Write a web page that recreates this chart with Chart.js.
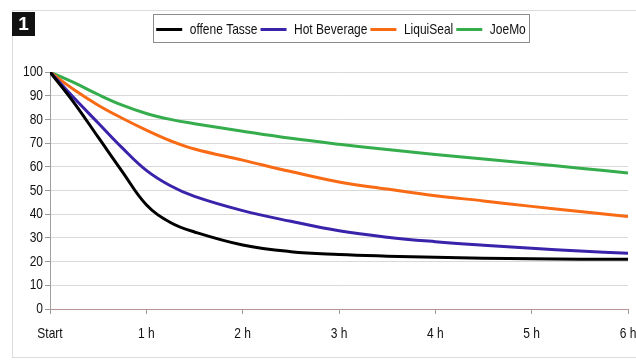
<!DOCTYPE html>
<html>
<head>
<meta charset="utf-8">
<script src="https://cdn.jsdelivr.net/npm/chart.js@4"></script>
<style>
  html, body { margin: 0; padding: 0; background: #fff; }
  #wrap { width: 636px; height: 362px; }
</style>
</head>
<body>
<div id="wrap"><canvas id="myChart" width="636" height="362"></canvas></div>
<script>
// hours after start, tick labels
const hours = [0, 0.25, 0.5, 0.75, 1, 1.25, 1.5, 2, 2.5, 3, 3.5, 4, 4.5, 5, 5.5, 6];
const xLabels = ['Start', '1 h', '2 h', '3 h', '4 h', '5 h', '6 h'];

const offeneTasse = [100, 87, 72.5, 58, 44, 36.5, 32.5, 27, 24.2, 23, 22.3, 21.8, 21.4, 21.2, 21, 21];
const hotBeverage = [100, 89, 78.5, 68, 58.5, 52, 47.5, 41.5, 37, 33, 30.3, 28.4, 26.9, 25.6, 24.5, 23.5];
const liquiSeal = [100, 92.5, 86, 80.5, 75.5, 71, 67.5, 62.8, 58, 53.6, 50.6, 47.8, 45.6, 43.3, 41.1, 39];
const joeMo = [100, 95.5, 90.5, 86, 82.5, 80, 78.2, 75, 72, 69.5, 67.3, 65.2, 63.3, 61.4, 59.4, 57.4];

const FONT = "'Liberation Sans', Arial, sans-serif";
const NARROW = 0.8; // the original uses a narrow face

const canvas = document.getElementById('myChart');
const ctx = canvas.getContext('2d');

// emulate a narrow font: squeeze text horizontally around its anchor
const rawFill = ctx.fillText.bind(ctx);
const rawMeasure = ctx.measureText.bind(ctx);
ctx.fillText = function (text, x, y, maxWidth) {
    ctx.save();
    ctx.translate(x, y);
    ctx.scale(NARROW, 1);
    rawFill(text, 0, 0);
    ctx.restore();
};
ctx.measureText = function (text) {
    const m = rawMeasure(text);
    return {
        width: m.width * NARROW,
        actualBoundingBoxAscent: m.actualBoundingBoxAscent,
        actualBoundingBoxDescent: m.actualBoundingBoxDescent,
        actualBoundingBoxLeft: m.actualBoundingBoxLeft * NARROW,
        actualBoundingBoxRight: m.actualBoundingBoxRight * NARROW
    };
};

function toPoints(values) {
    return values.map((v, i) => ({ x: hours[i], y: v }));
}

function line(label, values, color) {
    return {
        label: label,
        data: toPoints(values),
        borderColor: color,
        backgroundColor: color,
        borderWidth: 3,
        pointRadius: 0,
        tension: 0.4,
        fill: false
    };
}

// frame, number badge and legend border
const decor = {
    id: 'decor',
    beforeLayout(chart) {
        const lg = chart.legend;
        if (lg && !lg._extra) {
            const fit = lg.fit;
            lg.fit = function () {
                fit.call(this);
                this.height += 25;
            };
            lg._extra = true;
        }
    },
    afterUpdate(chart) {
        const lg = chart.legend;
        const dx = 23;
        lg.left += dx;
        lg.right += dx;
        lg.legendHitBoxes.forEach(b => { b.left += dx; });
    },
    beforeDraw(chart) {
        const c = chart.ctx;
        c.save();
        c.fillStyle = '#fff';
        c.fillRect(0, 0, chart.width, chart.height);
        c.strokeStyle = '#dcdcdc';
        c.lineWidth = 1;
        c.strokeRect(12.5, 10.5, 640, 347);
        c.fillStyle = '#111';
        c.fillRect(12, 12, 23, 24);
        c.fillStyle = '#fff';
        c.font = "bold 19px 'Liberation Sans', Arial, sans-serif";
        c.textAlign = 'center';
        c.textBaseline = 'middle';
        rawFill('1', 23.5, 25);
        c.restore();
    },
    afterDraw(chart) {
        const boxes = chart.legend.legendHitBoxes;
        if (!boxes.length) return;
        const left = Math.min(...boxes.map(b => b.left));
        const right = Math.max(...boxes.map(b => b.left + b.width));
        const c = chart.ctx;
        c.save();
        c.strokeStyle = '#8c8c8c';
        c.lineWidth = 1;
        c.strokeRect(Math.round(left) - 2.5, 14.5, Math.round(right - left) + 6, 28);
        c.restore();
    }
};

new Chart(ctx, {
    type: 'line',
    data: {
        datasets: [
            line('offene Tasse', offeneTasse, '#000000'),
            line('Hot Beverage', hotBeverage, '#3b22aa'),
            line('LiquiSeal', liquiSeal, '#f86a14'),
            line('JoeMo', joeMo, '#35ad4c')
        ]
    },
    options: {
        responsive: false,
        animation: false,
        layout: { padding: { top: 19, right: 0, bottom: 21, left: 0 } },
        plugins: {
            tooltip: { enabled: false },
            legend: {
                position: 'top',
                labels: {
                    boxWidth: 26,
                    boxHeight: 0,
                    padding: 3,
                    color: '#111',
                    font: { family: FONT, size: 15 }
                }
            }
        },
        scales: {
            x: {
                type: 'linear',
                min: 0,
                max: 6,
                afterFit: s => { s.height = 32; s.paddingRight = 8; },
                ticks: {
                    stepSize: 1,
                    padding: 11,
                    color: '#111',
                    font: { family: FONT, size: 15 },
                    callback: (v) => xLabels[v]
                },
                grid: { drawOnChartArea: false, drawTicks: true, tickLength: 5, tickColor: '#999' },
                border: { color: '#b89494', width: 1 }
            },
            y: {
                min: 0,
                max: 100,
                afterFit: s => { s.width = 50; },
                ticks: {
                    stepSize: 10,
                    padding: 2,
                    color: '#111',
                    font: { family: FONT, size: 15 }
                },
                grid: { color: '#d9d9d9', tickColor: '#999', tickLength: 5 },
                border: { color: '#a0a0a0', width: 1 }
            }
        }
    },
    plugins: [decor]
});
</script>
</body>
</html>
